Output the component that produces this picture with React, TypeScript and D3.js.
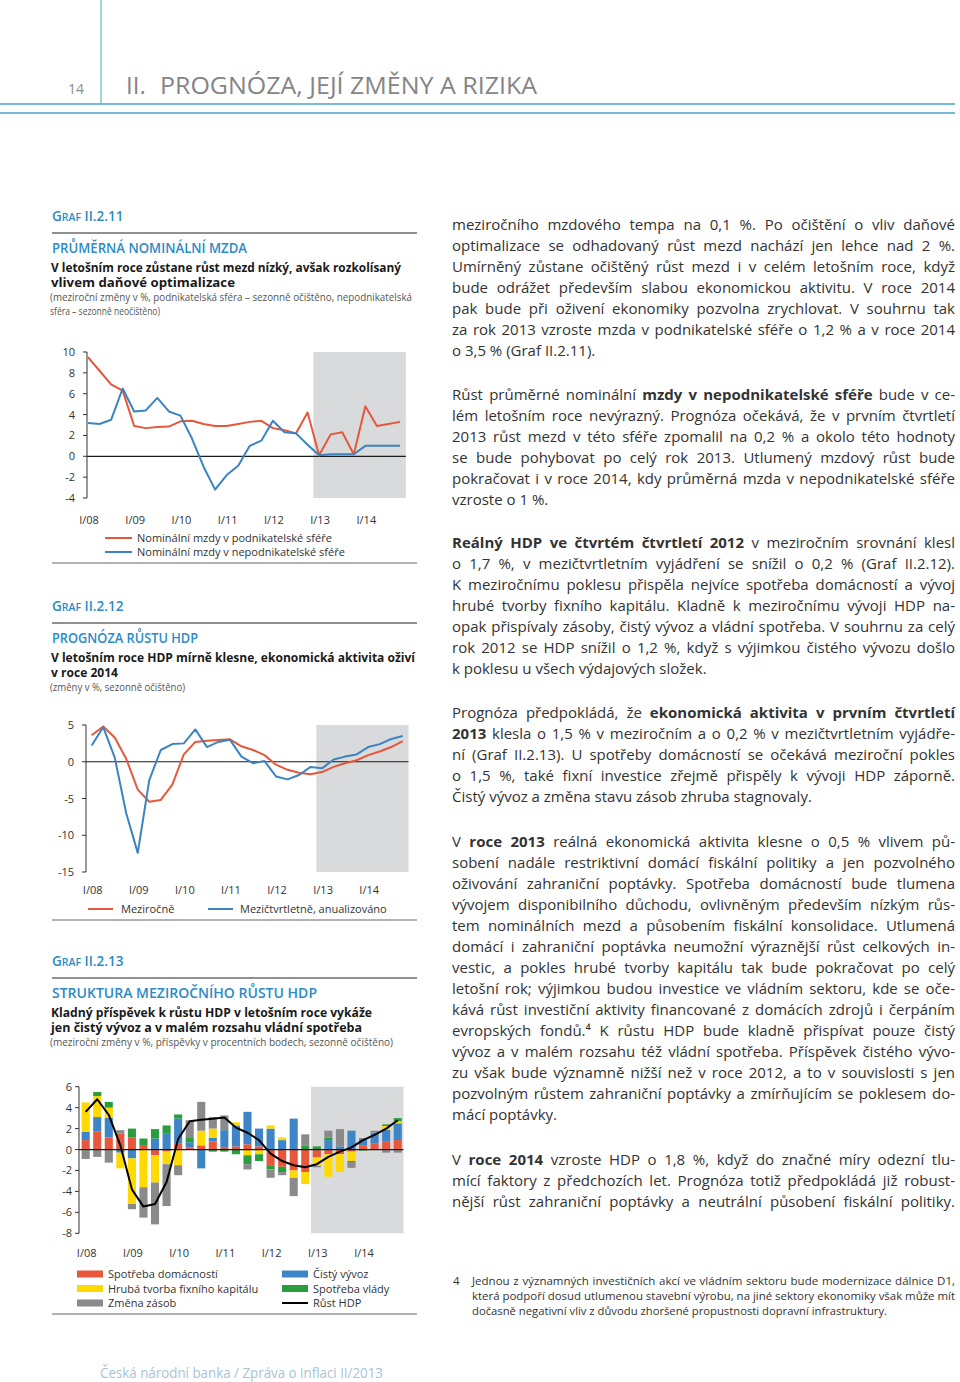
import React, { useLayoutEffect, useRef } from 'react';
import * as d3 from 'd3';

const FONT = '"Open Sans", "Noto Sans", sans-serif';
const RED = '#e4583b';
const BLUE = '#3c84c1';
const SHADE = '#d9dadc';
const HEAD = '#2a8bc6';
const TXT = '#333333';
const RULE = '#4aa3cb';

// quarters I/08 .. IV/14
const years = ['08', '09', '10', '11', '12', '13', '14'];
const romans = ['I', 'II', 'III', 'IV'];
const quarters = years.flatMap((y) => romans.map((r) => `${r}/${y}`));
const yearTicks = years.map((y) => `I/${y}`);
const forecastStart = 'I/13';

// Graf II.2.11
const wageBusiness = [9.5, 8.2, 6.9, 6.3, 2.9, 2.7, 2.8, 2.85, 3.35, 3.4, 3.1, 2.9, 2.9, 3.1, 3.3, 3.4, 2.7, 2.5, 2.2, 4.2, 0.1, 2.1, 2.3, 0.2, 4.8, 2.9, 3.1, 3.3];
const wageNonBusiness = [3.2, 3.1, 3.5, 6.5, 4.3, 4.4, 5.6, 4.3, 3.9, 1.7, -1.0, -3.2, -1.8, -0.9, 1.0, 1.5, 3.4, 2.3, 2.2, 1.1, 0.1, 0.2, 0.2, 0.2, 1.0, 1.0, 1.0, 1.0];
const wageTicks = [-4, -2, 0, 2, 4, 6, 8, 10];

// Graf II.2.12
const gdpYoy = [3.6, 4.8, 3.3, 0.4, -3.8, -5.45, -5.2, -3.1, 1.0, 2.7, 2.85, 2.95, 3.05, 2.1, 1.6, 0.9, -0.4, -1.1, -1.5, -1.7, -1.4, -0.7, -0.2, 0.2, 0.9, 1.4, 2.0, 2.8];
const gdpQoq = [2.2, 4.7, 0.6, -7.0, -12.4, -2.5, 1.6, 2.4, 2.5, 4.4, 2.0, 2.7, 3.0, 0.7, -0.2, 0.1, -2.0, -2.4, -1.8, -0.7, -0.9, 0.3, 0.7, 1.0, 2.0, 2.4, 3.1, 3.5];
const gdpTicks = [-15, -10, -5, 0, 5];

// Graf II.2.13 contributions (p.b.)
const household = [0.9, 1.7, 1.15, 1.5, 1.15, 0.35, -0.55, -0.2, 0.55, 0.2, 0.4, 0.75, 0.25, 0.3, 0.5, 0.3, -1.5, -1.65, -2.0, -2.15, -0.75, -0.45, -0.45, -0.2, 0.4, 0.6, 0.75, 0.9];
const netExports = [0.8, 1.4, 1.9, -0.3, -0.85, 0, 1.05, 1.5, 2.4, 0.5, -1.8, 0.35, 1.6, 2.0, 3.1, 1.7, 2.0, 0.9, 2.95, 0, 0, 0.9, 0.3, 1.8, 0.6, 0.9, 1.15, 1.6];
const gfcf = [2.8, 2.0, 0.95, -1.5, -4.35, -3.6, -2.6, -1.2, -1.5, 0, 1.4, 0.9, 0, 0.3, -0.55, -0.45, 0.3, 0.25, -0.7, -1.15, -0.8, -2.15, -1.7, -0.9, 0, 0, 0.35, 0.2];
const government = [-0.1, 0.4, 0.55, 0, 0.85, 0.7, 0.9, 0.8, 0.4, 0.4, 0, -0.2, -0.2, -0.45, -0.85, -0.65, -0.4, -0.5, 0, 0.4, 0.3, 0.25, 0, -0.1, -0.1, 0.1, 0.15, 0.3];
const inventories = [-0.8, -0.7, -1.25, 0.35, -0.5, -2.9, -4.0, -4.0, -0.95, 1.7, 2.75, 1.1, 1.4, 0, -0.5, 0, -0.8, -0.3, -1.75, 1.05, -0.15, 0.65, 1.65, -0.55, 0.1, 0.2, -0.3, -0.3];
const structTicks = [-8, -6, -4, -2, 0, 2, 4, 6];

const components = [
  { key: 'household', label: 'Spotřeba domácností', color: '#e8573c', values: household },
  { key: 'netExports', label: 'Čistý vývoz', color: '#3d85c6', values: netExports },
  { key: 'gfcf', label: 'Hrubá tvorba fixního kapitálu', color: '#ffd900', values: gfcf },
  { key: 'government', label: 'Spotřeba vlády', color: '#2a9e3e', values: government },
  { key: 'inventories', label: 'Změna zásob', color: '#8a8a8a', values: inventories },
];

type Seg = [string, boolean?];
type Para = { y: number; lines: Seg[][] };

const paragraphs: Para[] = [
  {
    y: 230,
    lines: [
      [['meziročního mzdového tempa na 0,1 %. Po očištění o vliv daňové']],
      [['optimalizace se odhadovaný růst mezd nachází jen lehce nad 2 %.']],
      [['Umírněný zůstane očištěný růst mezd i v celém letošním roce, když']],
      [['bude odrážet především slabou ekonomickou aktivitu. V roce 2014']],
      [['pak bude při oživení ekonomiky pozvolna zrychlovat. V souhrnu tak']],
      [['za rok 2013 vzroste mzda v podnikatelské sféře o 1,2 % a v roce 2014']],
      [['o 3,5 % (Graf II.2.11).']],
    ],
  },
  {
    y: 400,
    lines: [
      [['Růst průměrné nominální '], ['mzdy v nepodnikatelské sféře', true], [' bude v ce-']],
      [['lém letošním roce nevýrazný. Prognóza očekává, že v prvním čtvrtletí']],
      [['2013 růst mezd v této sféře zpomalil na 0,2 % a okolo této hodnoty']],
      [['se bude pohybovat po celý rok 2013. Utlumený mzdový růst bude']],
      [['pokračovat i v roce 2014, kdy průměrná mzda v nepodnikatelské sféře']],
      [['vzroste o 1 %.']],
    ],
  },
  {
    y: 548,
    lines: [
      [['Reálný HDP ve čtvrtém čtvrtletí 2012', true], [' v meziročním srovnání klesl']],
      [['o 1,7 %, v mezičtvrtletním vyjádření se snížil o 0,2 % (Graf II.2.12).']],
      [['K meziročnímu poklesu přispěla nejvíce spotřeba domácností a vývoj']],
      [['hrubé tvorby fixního kapitálu. Kladně k meziročnímu vývoji HDP na-']],
      [['opak přispívaly zásoby, čistý vývoz a vládní spotřeba. V souhrnu za celý']],
      [['rok 2012 se HDP snížil o 1,2 %, když s výjimkou čistého vývozu došlo']],
      [['k poklesu u všech výdajových složek.']],
    ],
  },
  {
    y: 718,
    lines: [
      [['Prognóza předpokládá, že '], ['ekonomická aktivita v prvním čtvrtletí', true]],
      [['2013', true], [' klesla o 1,5 % v meziročním a o 0,2 % v mezičtvrtletním vyjádře-']],
      [['ní (Graf II.2.13). U spotřeby domácností se očekává meziroční pokles']],
      [['o 1,5 %, také fixní investice zřejmě přispěly k vývoji HDP záporně.']],
      [['Čistý vývoz a změna stavu zásob zhruba stagnovaly.']],
    ],
  },
  {
    y: 847,
    lines: [
      [['V '], ['roce 2013', true], [' reálná ekonomická aktivita klesne o 0,5 % vlivem pů-']],
      [['sobení nadále restriktivní domácí fiskální politiky a jen pozvolného']],
      [['oživování zahraniční poptávky. Spotřeba domácností bude tlumena']],
      [['vývojem disponibilního důchodu, ovlivněným především nízkým růs-']],
      [['tem nominálních mezd a působením fiskální konsolidace. Utlumená']],
      [['domácí i zahraniční poptávka neumožní výraznější růst celkových in-']],
      [['vestic, a pokles hrubé tvorby kapitálu tak bude pokračovat po celý']],
      [['letošní rok; výjimkou budou investice ve vládním sektoru, kde se oče-']],
      [['kává růst investiční aktivity financované z domácích zdrojů i čerpáním']],
      [['evropských fondů.⁴ K růstu HDP bude kladně přispívat pouze čistý']],
      [['vývoz a v malém rozsahu též vládní spotřeba. Příspěvek čistého vývo-']],
      [['zu však bude významně nižší než v roce 2012, a to v souvislosti s jen']],
      [['pozvolným růstem zahraniční poptávky a zmírňujícím se poklesem do-']],
      [['mácí poptávky.']],
    ],
  },
  {
    y: 1165,
    lines: [
      [['V '], ['roce 2014', true], [' vzroste HDP o 1,8 %, když do značné míry odezní tlu-']],
      [['mící faktory z předchozích let. Prognóza totiž předpokládá již robust-']],
      [['nější růst zahraniční poptávky a neutrální působení fiskální politiky.']],
    ],
  },
];
const lastJustified = [false, false, false, false, false, true];

const footnote = [
  'Jednou z významných investičních akcí ve vládním sektoru bude modernizace dálnice D1,',
  'která podpoří dosud utlumenou stavební výrobu, na jiné sektory ekonomiky však může mít',
  'dočasně negativní vliv z důvodu zhoršené propustnosti dopravní infrastruktury.',
];
const footnoteWidths = [483, 483, 415];

type HeaderProps = {
  g: number;
  num: string;
  title: string;
  titleW: number;
  bold: [string, number][];
  note: [string, number][];
};

const ChartHeader = ({ g, num, title, titleW, bold, note }: HeaderProps) => (
  <g fontFamily={FONT}>
    <text x={52} y={g} fill={HEAD} fontWeight={600}>
      <tspan fontSize={13.5}>G</tspan>
      <tspan fontSize={10.5}>RAF</tspan>
      <tspan fontSize={13.5}>{` ${num}`}</tspan>
    </text>
    <line x1={52} x2={417} y1={g + 12} y2={g + 12} stroke="#222" strokeWidth={1} />
    <text x={52} y={g + 32} fill={HEAD} fontSize={14} fontWeight={600} textLength={titleW} lengthAdjust="spacingAndGlyphs">
      {title}
    </text>
    {bold.map(([t, w], i) => (
      <text key={t} x={51} y={g + 51 + i * 14.5} fill="#1a1a1a" fontSize={12.5} fontWeight={700} textLength={w} lengthAdjust="spacingAndGlyphs">
        {t}
      </text>
    ))}
    {note.map(([t, w], i) => (
      <text key={t} x={50} y={g + 80 + i * 14} fill="#555" fontSize={10} textLength={w} lengthAdjust="spacingAndGlyphs">
        {t}
      </text>
    ))}
  </g>
);

type LineSeries = { values: number[]; color: string };
type PanelProps = {
  x0: number;
  x1: number;
  axisX: number;
  yTop: number;
  yBot: number;
  dom: [number, number];
  ticks: number[];
  labelX: number;
  labelY: number;
  series: LineSeries[];
};

const LinePanel = ({ x0, x1, axisX, yTop, yBot, dom, ticks, labelX, labelY, series }: PanelProps) => {
  const x = d3.scalePoint<string>().domain(quarters).range([x0, x1]).padding(0.5);
  const y = d3.scaleLinear().domain(dom).range([yBot, yTop]);
  const shadeX = (x(forecastStart) as number) - x.step() / 2;
  const line = d3
    .line<number>()
    .x((_, i) => x(quarters[i]) as number)
    .y((d) => y(d));
  return (
    <g fontFamily={FONT}>
      <rect x={shadeX} y={yTop} width={x1 - shadeX} height={yBot - yTop} fill={SHADE} />
      <line x1={axisX} x2={x1} y1={y(0)} y2={y(0)} stroke="#1a1a1a" strokeWidth={1.2} />
      <line x1={axisX} x2={axisX} y1={yTop} y2={yBot} stroke="#333" strokeWidth={1} />
      {ticks.map((t) => (
        <g key={t}>
          <line x1={axisX - 4} x2={axisX} y1={y(t)} y2={y(t)} stroke="#333" />
          <text x={labelX} y={y(t) + 4} textAnchor="end" fontSize={11} fill={TXT}>
            {t}
          </text>
        </g>
      ))}
      {yearTicks.map((q) => (
        <text key={q} x={(x(q) as number) + 1} y={labelY} textAnchor="middle" fontSize={11} fill={TXT}>
          {q}
        </text>
      ))}
      {series.map((s, i) => (
        <path key={i} d={line(s.values) || ''} fill="none" stroke={s.color} strokeWidth={2} strokeLinejoin="round" />
      ))}
    </g>
  );
};

const StructPanel = () => {
  const axisX = 79;
  const yTop = 1086.7;
  const yBot = 1233.3;
  const x = d3.scaleBand<string>().domain(quarters).range([79.9, 403.5]).paddingInner(0.3).paddingOuter(0.15);
  const y = d3.scaleLinear().domain([-8, 6]).range([yBot, yTop]);
  const table = quarters.map((q, i) => {
    const row: Record<string, number | string> = { q };
    components.forEach((c) => (row[c.key] = c.values[i]));
    return row;
  });
  const stack = d3
    .stack<Record<string, number | string>>()
    .keys(components.map((c) => c.key))
    .value((d, k) => d[k] as number)
    .offset(d3.stackOffsetDiverging);
  const layers = stack(table);
  const shadeX = (x(forecastStart) as number) - (x.step() * 0.3) / 2;
  const line = d3
    .line<number>()
    .x((_, i) => (x(quarters[i]) as number) + x.bandwidth() / 2)
    .y((d) => y(d));
  return (
    <g fontFamily={FONT}>
      <rect x={shadeX} y={yTop} width={403.5 - shadeX} height={yBot - yTop} fill={SHADE} />
      {layers.map((layer, li) => (
        <g key={layer.key} fill={components[li].color}>
          {layer.map((d, i) => (
            <rect
              key={i}
              x={x(quarters[i]) as number}
              width={x.bandwidth()}
              y={y(Math.max(d[0], d[1]))}
              height={Math.abs(y(d[0]) - y(d[1]))}
            />
          ))}
        </g>
      ))}
      <line x1={axisX} x2={403.5} y1={y(0)} y2={y(0)} stroke="#1a1a1a" strokeWidth={1.2} />
      <line x1={axisX} x2={axisX} y1={yTop} y2={yBot} stroke="#333" strokeWidth={1} />
      {structTicks.map((t) => (
        <g key={t}>
          <line x1={axisX - 4} x2={axisX} y1={y(t)} y2={y(t)} stroke="#333" />
          <text x={72} y={y(t) + 4} textAnchor="end" fontSize={11} fill={TXT}>
            {t}
          </text>
        </g>
      ))}
      {yearTicks.map((q) => (
        <text key={q} x={(x(q) as number) + x.bandwidth() / 2 + 1} y={1257} textAnchor="middle" fontSize={11} fill={TXT}>
          {q}
        </text>
      ))}
      <path d={line(gdpYoy) || ''} fill="none" stroke="#000" strokeWidth={2} strokeLinejoin="round" />
    </g>
  );
};

const App = () => {
  const svgRef = useRef<SVGSVGElement | null>(null);

  useLayoutEffect(() => {
    const svg = svgRef.current;
    if (!svg) return;
    const fit = () => {
      d3.select(svg)
        .selectAll<SVGTextElement, unknown>('text.just')
        .each(function () {
          const el = d3.select(this);
          el.attr('word-spacing', null).attr('textLength', null).attr('lengthAdjust', null);
          const target = +(this.getAttribute('data-w') || 0);
          const w = this.getComputedTextLength();
          const gaps = (this.textContent || '').split(' ').length - 1;
          if (w > target) el.attr('textLength', target).attr('lengthAdjust', 'spacingAndGlyphs');
          else if (gaps > 0) el.attr('word-spacing', (target - w) / gaps);
        });
    };
    fit();
    if (document.fonts) document.fonts.ready.then(fit);
  }, []);

  const legend3 = [
    [components[0], components[2], components[4]],
    [components[1], components[3], null],
  ];

  return (
    <svg ref={svgRef} width={960} height={1382} style={{ position: 'absolute', left: 0, top: 0 }} fontFamily={FONT}>
      <rect width={960} height={1382} fill="#fff" />

      {/* page header */}
      <line x1={101} x2={101} y1={0} y2={104} stroke={RULE} strokeWidth={1} />
      <line x1={0} x2={955} y1={104} y2={104} stroke={RULE} strokeWidth={1.5} />
      <line x1={0} x2={955} y1={113} y2={113} stroke={RULE} strokeWidth={1.5} />
      <text x={68} y={94} fontSize={14} fill="#8c8c8c">14</text>
      <text x={126} y={94} fontSize={24} fill="#858585">II.</text>
      <text x={160} y={94} fontSize={24} fill="#858585" textLength={377} lengthAdjust="spacingAndGlyphs">
        PROGNÓZA, JEJÍ ZMĚNY A RIZIKA
      </text>

      {/* Graf II.2.11 */}
      <ChartHeader
        g={221}
        num="II.2.11"
        title="PRŮMĚRNÁ NOMINÁLNÍ MZDA"
        titleW={195}
        bold={[
          ['V letošním roce zůstane růst mezd nízký, avšak rozkolísaný', 350],
          ['vlivem daňové optimalizace', 184],
        ]}
        note={[
          ['(meziroční změny v %, podnikatelská sféra – sezonně očištěno, nepodnikatelská', 362],
          ['sféra – sezonně neočištěno)', 110],
        ]}
      />
      <LinePanel
        x0={82.2}
        x1={405.8}
        axisX={87}
        yTop={352}
        yBot={498}
        dom={[-4, 10]}
        ticks={wageTicks}
        labelX={75}
        labelY={524}
        series={[
          { values: wageBusiness, color: RED },
          { values: wageNonBusiness, color: BLUE },
        ]}
      />
      <g fontFamily={FONT} fontSize={11} fill={TXT}>
        <line x1={105} x2={132} y1={538} y2={538} stroke={RED} strokeWidth={2} />
        <text x={137} y={542}>Nominální mzdy v podnikatelské sféře</text>
        <line x1={105} x2={132} y1={552} y2={552} stroke={BLUE} strokeWidth={2} />
        <text x={137} y={556}>Nominální mzdy v nepodnikatelské sféře</text>
      </g>
      <line x1={52} x2={417} y1={563} y2={563} stroke="#9a9a9a" strokeWidth={1.5} />

      {/* Graf II.2.12 */}
      <ChartHeader
        g={611}
        num="II.2.12"
        title="PROGNÓZA RŮSTU HDP"
        titleW={146}
        bold={[
          ['V letošním roce HDP mírně klesne, ekonomická aktivita oživí', 364],
          ['v roce 2014', 67],
        ]}
        note={[['(změny v %, sezonně očištěno)', 135]]}
      />
      <LinePanel
        x0={85.9}
        x1={408.5}
        axisX={86}
        yTop={725}
        yBot={872}
        dom={[-15, 5]}
        ticks={gdpTicks}
        labelX={74}
        labelY={894}
        series={[
          { values: gdpYoy, color: RED },
          { values: gdpQoq, color: BLUE },
        ]}
      />
      <g fontFamily={FONT} fontSize={11} fill={TXT}>
        <line x1={88} x2={113} y1={909} y2={909} stroke={RED} strokeWidth={2} />
        <text x={121} y={913}>Meziročně</text>
        <line x1={208} x2={233} y1={909} y2={909} stroke={BLUE} strokeWidth={2} />
        <text x={240} y={913}>Mezičtvrtletně, anualizováno</text>
      </g>
      <line x1={52} x2={417} y1={920} y2={920} stroke="#9a9a9a" strokeWidth={1.5} />

      {/* Graf II.2.13 */}
      <ChartHeader
        g={966}
        num="II.2.13"
        title="STRUKTURA MEZIROČNÍHO RŮSTU HDP"
        titleW={265}
        bold={[
          ['Kladný příspěvek k růstu HDP v letošním roce vykáže', 321],
          ['jen čistý vývoz a v malém rozsahu vládní spotřeba', 311],
        ]}
        note={[['(meziroční změny v %, příspěvky v procentních bodech, sezonně očištěno)', 343]]}
      />
      <StructPanel />
      <g fontFamily={FONT} fontSize={11} fill={TXT}>
        {legend3.map((col, ci) =>
          col.map((c, ri) => {
            const sx = ci === 0 ? 77 : 282;
            const ry = 1274 + ri * 14.5;
            return (
              <g key={`${ci}-${ri}`}>
                {c ? (
                  <rect x={sx} y={ry - 3.5} width={26} height={7} fill={c.color} />
                ) : (
                  <line x1={sx} x2={sx + 26} y1={ry} y2={ry} stroke="#000" strokeWidth={2} />
                )}
                <text x={sx + 31} y={ry + 4}>{c ? c.label : 'Růst HDP'}</text>
              </g>
            );
          })
        )}
      </g>
      <line x1={52} x2={417} y1={1314} y2={1314} stroke="#9a9a9a" strokeWidth={1.5} />

      {/* body text */}
      <g fontFamily={FONT} fontSize={15} fill={TXT}>
        {paragraphs.map((p, pi) =>
          p.lines.map((segs, li) => {
            const isLast = li === p.lines.length - 1 && !lastJustified[pi];
            return (
              <text
                key={`${pi}-${li}`}
                className={isLast ? undefined : 'just'}
                data-w={503}
                x={452}
                y={p.y + li * 21}
              >
                {segs.map(([t, b], si) => (
                  <tspan key={si} fontWeight={b ? 700 : 400}>
                    {t}
                  </tspan>
                ))}
              </text>
            );
          })
        )}
      </g>

      {/* footnote */}
      <g fontFamily={FONT} fontSize={11.5} fill={TXT}>
        <text x={453} y={1285}>4</text>
        {footnote.map((t, i) => (
          <text key={i} className="just" data-w={footnoteWidths[i]} x={472} y={1285 + i * 15}>
            {t}
          </text>
        ))}
      </g>

      {/* footer */}
      <text x={100} y={1378} fontSize={14} fill="#a8c3d5" textLength={283} lengthAdjust="spacingAndGlyphs">
        Česká národní banka / Zpráva o inflaci II/2013
      </text>
    </svg>
  );
};

export default App;
